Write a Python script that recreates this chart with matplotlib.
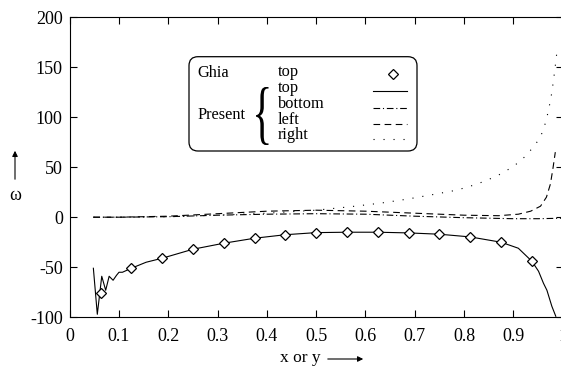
import matplotlib
matplotlib.use("Agg")
import matplotlib.pyplot as plt
import numpy as np
from matplotlib.patches import FancyBboxPatch, PathPatch
from matplotlib.lines import Line2D
from matplotlib.textpath import TextPath
from matplotlib.font_manager import FontProperties
from matplotlib.transforms import Affine2D

plt.rcParams["font.family"] = ["Liberation Serif", "DejaVu Serif"]
plt.rcParams["axes.unicode_minus"] = False

# Ghia et al. reference values along the top wall
ghia_x = [0.0625, 0.125, 0.1875, 0.25, 0.3125, 0.375, 0.4375, 0.5,
          0.5625, 0.625, 0.6875, 0.75, 0.8125, 0.875, 0.9375]
ghia_top = [-76, -51, -41, -32, -26, -21, -17.5, -15.4,
            -15, -15, -15.7, -17, -19.7, -25, -43.7]

# present results
top_x = [0.048, 0.056, 0.065, 0.073, 0.080, 0.088, 0.095, 0.100, 0.107,
         0.125, 0.155, 0.1875, 0.25, 0.3125, 0.375, 0.4375, 0.5, 0.5625,
         0.625, 0.6875, 0.75, 0.8125, 0.875, 0.91, 0.9375, 0.951, 0.961,
         0.968, 0.978, 0.986]
top_w = [-51, -97, -59, -73, -59, -63, -58, -55, -55,
         -51, -45, -41, -32, -26, -21, -17.5, -15.4, -15,
         -15, -15.7, -17, -19.7, -25, -31, -44, -54, -66,
         -73, -89, -99]

bottom_x = [0.048, 0.1, 0.2, 0.3, 0.4, 0.5, 0.6, 0.7, 0.8, 0.9, 0.95, 1.0]
bottom_w = [0, 0, 0.5, 2, 3, 3.5, 3, 1, -0.5, -1.5, -1.5, -1]

left_x = [0.048, 0.1, 0.2, 0.3, 0.4, 0.5, 0.6, 0.7, 0.8, 0.87, 0.91,
          0.935, 0.955, 0.967, 0.975, 0.98, 0.985]
left_w = [0, 0, 1, 3.5, 6, 7, 6, 4, 2, 1.5, 3, 6, 11, 20, 33, 48, 65]

right_x = [0.048, 0.1, 0.2, 0.3, 0.4, 0.5, 0.57, 0.63, 0.684, 0.73, 0.785,
           0.826, 0.866, 0.9, 0.927, 0.951, 0.961, 0.971, 0.978, 0.984, 0.988]
right_w = [0, 0, 0.5, 2, 4, 7, 10.5, 14, 18, 22, 27,
           33, 41, 50.6, 62, 77, 87, 106, 124.6, 147, 164]

xticks = [0, 0.1, 0.2, 0.3, 0.4, 0.5, 0.6, 0.7, 0.8, 0.9, 1.0]
xtick_labels = ["0", "0.1", "0.2", "0.3", "0.4", "0.5", "0.6", "0.7", "0.8", "0.9", "1"]
yticks = [-100, -50, 0, 50, 100, 150, 200]

W, H = 561, 369
fig = plt.figure(figsize=(W / 100, H / 100), dpi=100)
ax = fig.add_axes([69.7 / W, 1 - 317.3 / H, 493 / W, 300.3 / H])

lw = 0.8
ax.plot(top_x, top_w, color="black", lw=lw)
ax.plot(bottom_x, bottom_w, color="black", lw=lw, linestyle=(0, (6, 2.5, 1, 2.5)))
ax.plot(left_x, left_w, color="black", lw=lw, linestyle=(0, (6, 4)))
ax.plot(right_x, right_w, color="black", lw=lw, linestyle=(0, (1, 8)))
ax.plot(ghia_x, ghia_top, linestyle="none", marker="D", markersize=5,
        markerfacecolor="white", markeredgecolor="black", markeredgewidth=0.9)

ax.set_xlim(0, 1)
ax.set_ylim(-100, 200)
ax.set_xticks(xticks)
ax.set_xticklabels(xtick_labels)
ax.set_yticks(yticks)
ax.tick_params(direction="in", length=5, width=0.8, top=True, right=True,
               labelsize=13)
ax.tick_params(axis="x", pad=8)
ax.tick_params(axis="y", pad=5)
for s in ax.spines.values():
    s.set_linewidth(0.8)
ax.spines["right"].set_visible(False)  # cut off in the original scan

# axis labels with arrows (pixel positions of the original figure)
def inch(x, y):
    return x / 100, (H - y) / 100

tr = fig.dpi_scale_trans
fig.text(*inch(15, 196), "ω", transform=tr, ha="center", va="center", fontsize=13)
ax.annotate("", xy=inch(15, 148), xytext=inch(15, 182), xycoords=tr, textcoords=tr,
            arrowprops=dict(arrowstyle="-|>", lw=0.8, color="black", mutation_scale=8))
fig.text(*inch(321, 358), "x or y", transform=tr, ha="right", va="center", fontsize=12.5)
ax.annotate("", xy=inch(366, 359), xytext=inch(325, 359), xycoords=tr, textcoords=tr,
            arrowprops=dict(arrowstyle="-|>", lw=0.8, color="black", mutation_scale=8))

# hand-made legend box
x0, y0 = inch(189, 151)
box = FancyBboxPatch((x0, y0), 2.28, 0.943, boxstyle="round,pad=0,rounding_size=0.09",
                     transform=tr, facecolor="white", edgecolor="black", lw=0.9)
fig.add_artist(box)

fs = 11.8
fig.text(*inch(197, 73), "Ghia", transform=tr, va="center", fontsize=fs)
fig.text(*inch(197, 115), "Present", transform=tr, va="center", fontsize=fs)
rows = [("top", 72.5), ("top", 87.5), ("bottom", 104), ("left", 120), ("right", 135)]
for label, yy in rows:
    fig.text(*inch(278, yy), label, transform=tr, va="center", fontsize=fs)

mx, my = inch(393, 74)
fig.add_artist(Line2D([mx], [my], transform=tr, marker="D", markersize=5,
                      markerfacecolor="white", markeredgecolor="black",
                      markeredgewidth=0.9, linestyle="none"))
styles = [("-", 90.5), ((0, (6, 2.5, 1, 2.5)), 108), ((0, (6, 4)), 124), ((0, (1, 8)), 139)]
for ls, yy in styles:
    xa, ya = inch(373, yy)
    xb, _ = inch(407, yy)
    fig.add_artist(Line2D([xa, xb], [ya, ya], transform=tr, color="black",
                          lw=lw, linestyle=ls))

# curly brace scaled from a glyph
tp = TextPath((0, 0), "{", size=1, prop=FontProperties(family="Liberation Serif"))
ext = tp.get_extents()
bx, by = inch(256, 145)
bw, bh = 0.125, 0.58
brace_tr = (Affine2D().translate(-ext.x0, -ext.y0)
            .scale(bw / ext.width, bh / ext.height).translate(bx, by) + tr)
fig.add_artist(PathPatch(tp, transform=brace_tr, facecolor="black", lw=0))

fig.savefig("out.png", dpi=100)
